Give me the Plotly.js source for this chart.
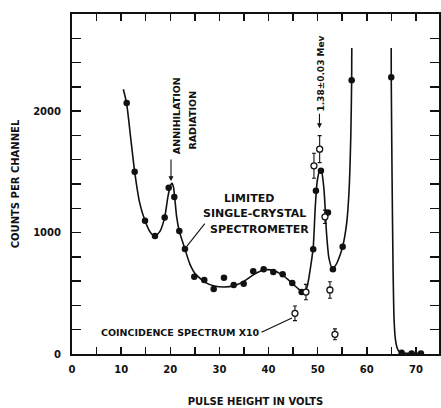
<!DOCTYPE html>
<html>
<head>
<meta charset="utf-8">
<script src="https://cdn.plot.ly/plotly-3.0.1.min.js"></script>
<style>html,body{margin:0;padding:0;background:#fff;}#chart{width:441px;height:408px;}</style>
</head>
<body>
<div id="chart"></div>
<script>
// Smooth fitted curve, two segments
var curveX1 = [10.45, 11.13, 12.0, 12.76, 13.8, 14.86, 15.9, 16.89, 17.9, 18.86, 19.5, 20.0, 20.35, 20.65, 20.95, 21.3, 21.84, 22.99, 24.0, 25.0, 27.0, 29.0, 31.0, 33.0, 35.0, 37.0, 39.0, 41.0, 43.0, 45.0, 46.5, 47.3, 47.9, 48.5, 49.1, 49.5, 49.9, 50.4, 50.8, 51.3, 51.8, 52.3, 53.0, 53.8, 54.6, 55.09, 55.9, 56.4, 56.75, 56.92, 56.95];
var curveY1 = [2180, 2060, 1760, 1500, 1240, 1097, 1005, 971, 1010, 1125, 1290, 1385, 1405, 1375, 1270, 1130, 1012, 864, 740, 665, 592, 560, 552, 562, 598, 655, 692, 688, 645, 575, 522, 508, 560, 700, 880, 1200, 1420, 1510, 1500, 1350, 1000, 790, 705, 740, 820, 883, 1075, 1350, 1800, 2255, 2520];
var curveX2 = [64.97, 64.98, 65.15, 65.35, 65.55, 65.8, 66.1, 66.5, 67.1, 69.1, 71.0];
var curveY2 = [2520, 2280, 1450, 700, 290, 130, 60, 25, 10, 5, 5];

// Limited single-crystal spectrometer measurements (filled dots)
var singleX = [11.13, 12.76, 14.86, 16.89, 18.86, 19.68, 20.82, 21.84, 22.99, 24.89, 26.92, 28.84, 30.93, 32.91, 34.94, 36.89, 39.01, 40.97, 42.88, 44.83, 46.74, 49.10, 49.65, 50.67, 52.10, 53.11, 55.09, 56.92, 64.98, 67.09, 69.13, 71.02];
var singleY = [2068, 1500, 1097, 971, 1125, 1369, 1292, 1012, 864, 636, 609, 535, 628, 568, 579, 681, 697, 675, 656, 584, 510, 862, 1344, 1509, 1166, 697, 883, 2255, 2280, 10, 5, 5];

// Coincidence spectrum x10 (open circles with error bars)
var coincX = [45.38, 47.62, 49.25, 50.41, 51.49, 52.50, 53.52];
var coincY = [335, 510, 1550, 1687, 1130, 527, 162];
var coincErr = [60, 63, 103, 111, 55, 68, 45];

var xTickVals = [0, 10, 20, 30, 40, 50, 60, 70];
var yTickVals = [0, 1000, 2000];

var F = 'DejaVu Sans';
var black = '#111';

var traces = [
  {x: curveX1.concat([null]).concat(curveX2), y: curveY1.concat([null]).concat(curveY2),
   mode: 'lines', line: {color: black, width: 1.6, shape: 'spline', smoothing: 0.6},
   connectgaps: false, hoverinfo: 'skip', showlegend: false},
  {x: singleX, y: singleY, mode: 'markers',
   marker: {color: black, size: 6.5, symbol: 'circle'}, showlegend: false},
  {x: coincX, y: coincY, mode: 'markers',
   marker: {color: '#fff', size: 6, symbol: 'circle', line: {color: black, width: 1.3}},
   error_y: {type: 'data', array: coincErr, visible: true, color: black, thickness: 1.1, width: 2},
   showlegend: false}
];

function txt(x, y, t, size, angle) {
  return {x: x, y: y, xref: 'x', yref: 'y', text: t, showarrow: false,
          textangle: angle || 0, font: {family: F, size: size, color: black, weight: 'bold'},
          xanchor: 'center', yanchor: 'middle'};
}
function arrow(x, y, ax, ay, head) {
  return {x: x, y: y, xref: 'x', yref: 'y', text: '', showarrow: true, ax: ax, ay: ay,
          arrowhead: head, arrowsize: 0.9, arrowwidth: 1.1, arrowcolor: black, standoff: 0, startstandoff: 0};
}

var annotations = [
  txt(21.2, 1960, 'ANNIHILATION', 9.5, -90),
  txt(24.5, 1925, 'RADIATION', 9.5, -90),
  arrow(20.15, 1424, 0, -23, 2),
  txt(36.0, 1284, 'LIMITED', 11),
  txt(37.2, 1160, 'SINGLE-CRYSTAL', 11),
  txt(38.2, 1029, 'SPECTROMETER', 11),
  arrow(23.4, 889, 19, -24, 0),
  txt(50.67, 2309, '1.38±0.03 Mev', 9, -90),
  arrow(50.37, 1860, 0, -16, 2),
  txt(22.0, 181, 'COINCIDENCE SPECTRUM X10', 9.5),
  arrow(44.77, 296, -32, 15, 0)
];

var layout = {
  width: 441, height: 408,
  margin: {l: 72, r: 2, t: 14, b: 54},
  paper_bgcolor: '#fff', plot_bgcolor: '#fff',
  font: {family: F, color: black, size: 10, weight: 'bold'},
  showlegend: false,
  xaxis: {
    range: [0, 74.7], tickvals: xTickVals, ticks: 'inside', ticklen: 7, tickwidth: 1.5, tickcolor: black,
    minor: {dtick: 5, tick0: 0, ticks: 'inside', ticklen: 7, tickwidth: 1.5, tickcolor: black},
    showline: true, linewidth: 2, linecolor: black, mirror: 'allticks', showgrid: false, zeroline: false,
    tickfont: {family: F, size: 10, color: black, weight: 'bold'}, ticklabelstandoff: 5,
    title: {text: 'PULSE HEIGHT IN VOLTS', font: {family: F, size: 10, color: black, weight: 'bold'}, standoff: 24}
  },
  yaxis: {
    range: [0, 2800], tickvals: yTickVals, ticks: 'inside', ticklen: 9, tickwidth: 1.5, tickcolor: black,
    minor: {dtick: 200, tick0: 0, ticks: 'inside', ticklen: 9, tickwidth: 1.5, tickcolor: black},
    showline: true, linewidth: 2, linecolor: black, mirror: 'allticks', showgrid: false, zeroline: false,
    tickfont: {family: F, size: 10, color: black, weight: 'bold'}, ticklabelstandoff: 7,
    title: {text: 'COUNTS PER CHANNEL', font: {family: F, size: 10, color: black, weight: 'bold'}, standoff: 12}
  },
  annotations: annotations
};

Plotly.newPlot('chart', traces, layout, {displayModeBar: false, staticPlot: true});
</script>
</body>
</html>
